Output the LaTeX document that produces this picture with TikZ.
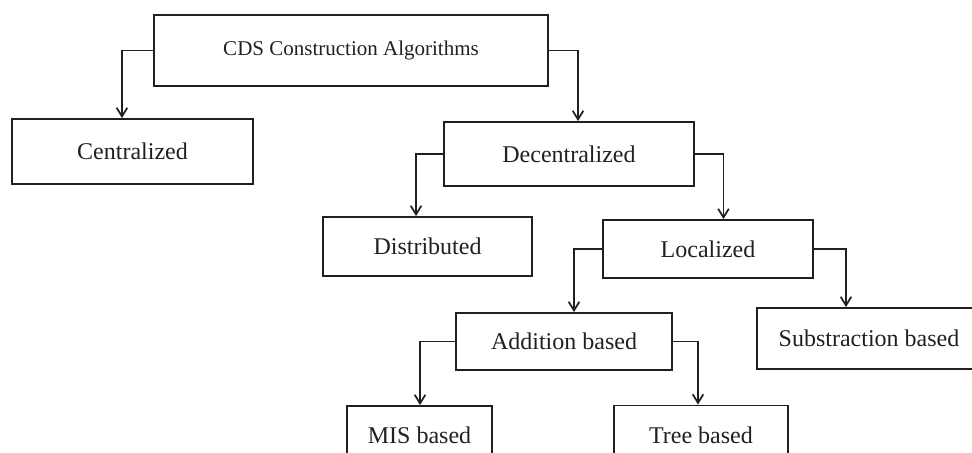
\documentclass[tikz,border=0pt]{standalone}
\usepackage{fontspec}
\setmainfont{Liberation Serif}
\usetikzlibrary{arrows.meta,positioning}
\definecolor{cdsInk}{RGB}{35, 31, 32}

\begin{document}
\begin{tikzpicture}[
  x=0.75pt, y=-0.75pt,
  algo/.style={
    draw=cdsInk,
    line width=1.4pt,
    text=cdsInk,
    align=center,
    inner sep=0pt,
    font=\fontsize{18}{20}\selectfont
  },
  link/.style={
    draw=cdsInk,
    line width=1.3pt,
    -{Straight Barb[length=6.5pt,width=8pt,line width=1.3pt]}
  }
]
  \useasboundingbox (0,0) rectangle (972,453);
  \clip (0,0) rectangle (972,453);
  % boxes
  \node[algo,minimum width=295.5pt,minimum height=53.25pt,font=\fontsize{15.75}{18}\selectfont] (root) at (351,50.5) {CDS Construction Algorithms};
  \node[algo,minimum width=180.75pt,minimum height=48.75pt] (central) at (132.5,151.5) {Centralized};
  \node[algo,minimum width=187.5pt,minimum height=48pt] (decentral) at (569,154) {Decentralized};
  \node[algo,minimum width=156.75pt,minimum height=44.25pt] (distrib) at (427.5,246.5) {Distributed};
  \node[algo,minimum width=157.5pt,minimum height=43.5pt] (local) at (708,249) {Localized};
  \node[algo,minimum width=162pt,minimum height=42.75pt] (addition) at (564,341.5) {Addition based};
  \node[algo,minimum width=168pt,minimum height=45.75pt] (subtract) at (869,338.5) {Substraction based};
  \node[algo,minimum width=108.75pt,minimum height=43.5pt] (mis) at (419.5,435) {MIS based};
  \node[algo,minimum width=130.5pt,minimum height=44.25pt] (tree) at (701,435) {Tree based};
  % connectors
  \draw[link] (root.west) -| ([xshift=-7.9pt]central.north);
  \draw[link] (root.east) -| ([xshift=6.75pt]decentral.north);
  \draw[link] (decentral.west) -| ([xshift=-8.6pt]distrib.north);
  \draw[link] (decentral.east) -| ([xshift=11.6pt]local.north);
  \draw[link] (local.west) -| ([xshift=7.5pt]addition.north);
  \draw[link] (local.east) -| ([xshift=-17.25pt]subtract.north);
  \draw[link] (addition.west) -| ([xshift=0.4pt]mis.north);
  \draw[link] (addition.east) -| ([xshift=-2.25pt]tree.north);
\end{tikzpicture}
\end{document}
